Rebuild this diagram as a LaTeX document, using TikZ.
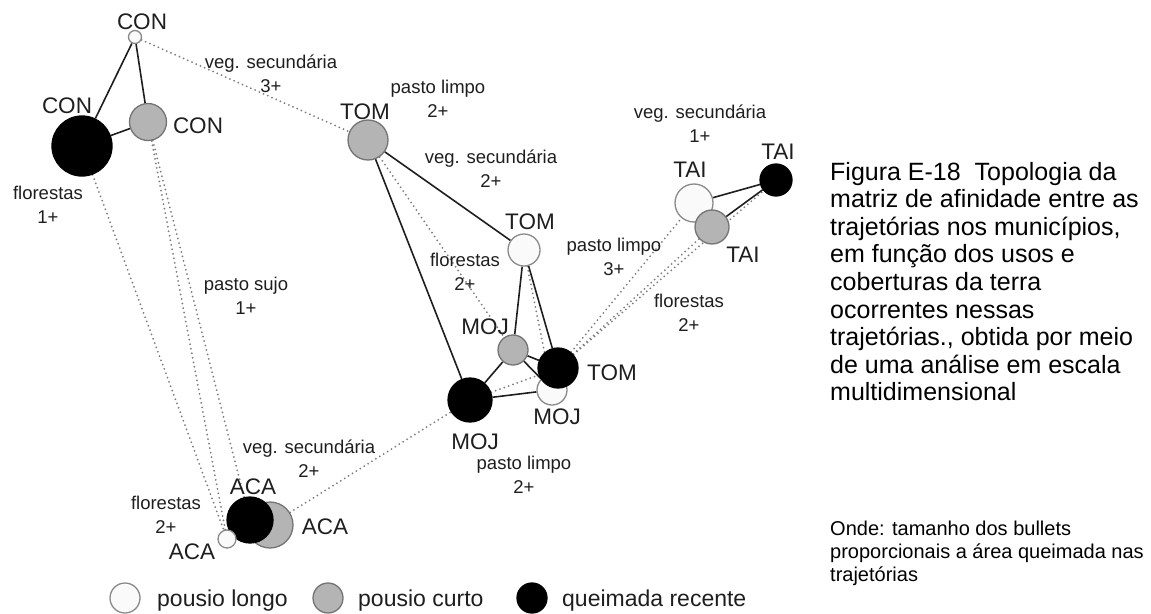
\documentclass[tikz,border=0pt]{standalone}
\usepackage{fontspec}
\setmainfont{Liberation Sans}
\usetikzlibrary{backgrounds}
\definecolor{ink}{HTML}{1E1E1E}
\definecolor{dotc}{HTML}{7C7C7C}
\definecolor{gfill}{HTML}{B4B4B4}
\definecolor{gedge}{HTML}{747474}
\definecolor{wfill}{HTML}{FAFAFA}
\definecolor{wedge}{HTML}{8A8A8A}
\begin{document}
\begin{tikzpicture}[x=1pt,y=-1pt,
  bub/.style={circle,inner sep=0pt,minimum size=#1,line width=1.3pt},
  wb/.style={bub=#1,fill=wfill,draw=wedge},
  gb/.style={bub=#1,fill=gfill,draw=gedge},
  kb/.style={bub=#1,fill=black,draw=black},
  solline/.style={draw=ink,line width=1.6pt},
  dotline/.style={draw=dotc,line width=2pt,line cap=round,dash pattern=on 0pt off 4.6pt},
  namelab/.style={text=ink,font=\fontsize{22.5}{27}\selectfont,inner sep=0pt},
  edgelab/.style={text=ink,font=\fontsize{18.5}{24}\selectfont,align=center,inner sep=0pt},
  legtxt/.style={text=ink,font=\fontsize{23}{27}\selectfont,inner sep=0pt,anchor=base west},
  captxt/.style={text=black,font=\fontsize{25}{28}\selectfont,inner sep=0pt,anchor=base west},
  notetxt/.style={text=black,font=\fontsize{20}{23}\selectfont,inner sep=0pt,anchor=base west}]
\useasboundingbox (0,0) rectangle (1151,613);

% ---- CON
\node[wb=13] (c1) at (135,37) {};
\node[kb=60] (c2) at (82,146) {};
\node[gb=37] (c3) at (148,122) {};
% ---- TOM / MOJ
\node[gb=40] (t1) at (368,140) {};
\node[wb=32] (t2) at (524,250) {};
\node[gb=30] (m1) at (513,350) {};
\node[wb=30] (m2) at (552,390) {};
\node[kb=40] (t3) at (558,368) {};
\node[kb=44] (m3) at (470,400) {};
% ---- TAI
\node[wb=38] (a1) at (694,203) {};
\node[gb=34] (a2) at (712,227) {};
\node[kb=32] (a3) at (776,180) {};
% ---- ACA
\node[gb=46] (ac2) at (270,525) {};
\node[kb=46] (ac1) at (250,520) {};
\node[wb=18] (ac3) at (227,539) {};

% ---- name labels
\node[namelab] (lc1) at (142,22) {CON};
\node[namelab] (lc2) at (67,106) {CON};
\node[namelab] (lc3) at (198,126) {CON};
\node[namelab] (lt1) at (365,112) {TOM};
\node[namelab] (lt2) at (530,222) {TOM};
\node[namelab] (lt3) at (612,373) {TOM};
\node[namelab] (lm1) at (485,327) {MOJ};
\node[namelab] (lm2) at (557,417) {MOJ};
\node[namelab] (lm3) at (475,442) {MOJ};
\node[namelab] (la1) at (690,170) {TAI};
\node[namelab] (la2) at (743,255) {TAI};
\node[namelab] (la3) at (778,152) {TAI};
\node[namelab] (lac1) at (253,487) {ACA};
\node[namelab] (lac2) at (325,527) {ACA};
\node[namelab] (lac3) at (192,552) {ACA};

% ---- edge labels
\node[edgelab] (e1) at (271,74) {veg. secundária\\3+};
\node[edgelab] (e2) at (438,99) {pasto limpo\\2+};
\node[edgelab] (e3) at (491,169) {veg. secundária\\2+};
\node[edgelab] (e4) at (465,272) {florestas\\2+};
\node[edgelab] (e5) at (614,257) {pasto limpo\\3+};
\node[edgelab] (e6) at (700,124) {veg. secundária\\1+};
\node[edgelab] (e7) at (689,313) {florestas\\2+};
\node[edgelab] (e8) at (524,475) {pasto limpo\\2+};
\node[edgelab] (e9) at (309,459) {veg. secundária\\2+};
\node[edgelab] (e10) at (166,515) {florestas\\2+};
\node[edgelab] (e11) at (48,205) {florestas\\1+};
\node[edgelab] (e12) at (246,296) {pasto sujo\\1+};

% ---- connectors
\begin{pgfonlayer}{background}
  \draw[dotline] (c1) -- (t1);
  \draw[dotline] (c2) -- (ac3);
  \draw[dotline] (c3) -- (ac3);
  \draw[dotline] (c3) -- (ac1);
  \draw[dotline] (ac2) -- (m3);
  \draw[dotline] (t1) -- (m1);
  \draw[dotline] (t2) -- (m2);
  \draw[dotline] (m3) -- (t3);
  \draw[dotline] (t3) -- (a1);
  \draw[dotline] (t3) -- (a2);
  \draw[dotline] (t3) -- (a3);
  \draw[solline] (c1) -- (c2);
  \draw[solline] (c1) -- (c3);
  \draw[solline] (c2) -- (c3);
  \draw[solline] (t1) -- (t2);
  \draw[solline] (t1) -- (m3);
  \draw[solline] (t2) -- (m1);
  \draw[solline] (t2) -- (t3);
  \draw[solline] (m1) -- (m3);
  \draw[solline] (m1) -- (t3);
  \draw[solline] (m1) -- (m2);
  \draw[solline] (m3) -- (m2);
  \draw[solline] (a1) -- (a3);
  \draw[solline] (a2) -- (a3);
\end{pgfonlayer}

% ---- legend
\node[wb=30] (lgw) at (125,598) {};
\node[legtxt] (lgwt) at (157,606) {pousio longo};
\node[gb=30] (lgg) at (328,598) {};
\node[legtxt] (lggt) at (358,606) {pousio curto};
\node[kb=30] (lgk) at (532,598) {};
\node[legtxt] (lgkt) at (562,606) {queimada recente};

% ---- caption
\node[captxt] (cap1) at (830,180.0) {Figura E-18\ \ Topologia da};
\node[captxt] (cap2) at (830,207.6) {matriz de afinidade entre as};
\node[captxt] (cap3) at (830,235.2) {trajetórias nos municípios,};
\node[captxt] (cap4) at (830,262.8) {em função dos usos e};
\node[captxt] (cap5) at (830,290.4) {coberturas da terra};
\node[captxt] (cap6) at (830,318.0) {ocorrentes nessas};
\node[captxt] (cap7) at (830,345.6) {trajetórias., obtida por meio};
\node[captxt] (cap8) at (830,373.2) {de uma análise em escala};
\node[captxt] (cap9) at (830,400.8) {multidimensional};

\node[notetxt] (n1) at (830,535.0) {Onde: tamanho dos bullets};
\node[notetxt] (n2) at (830,558.3) {proporcionais a área queimada nas};
\node[notetxt] (n3) at (830,581.6) {trajetórias};
\end{tikzpicture}
\end{document}
